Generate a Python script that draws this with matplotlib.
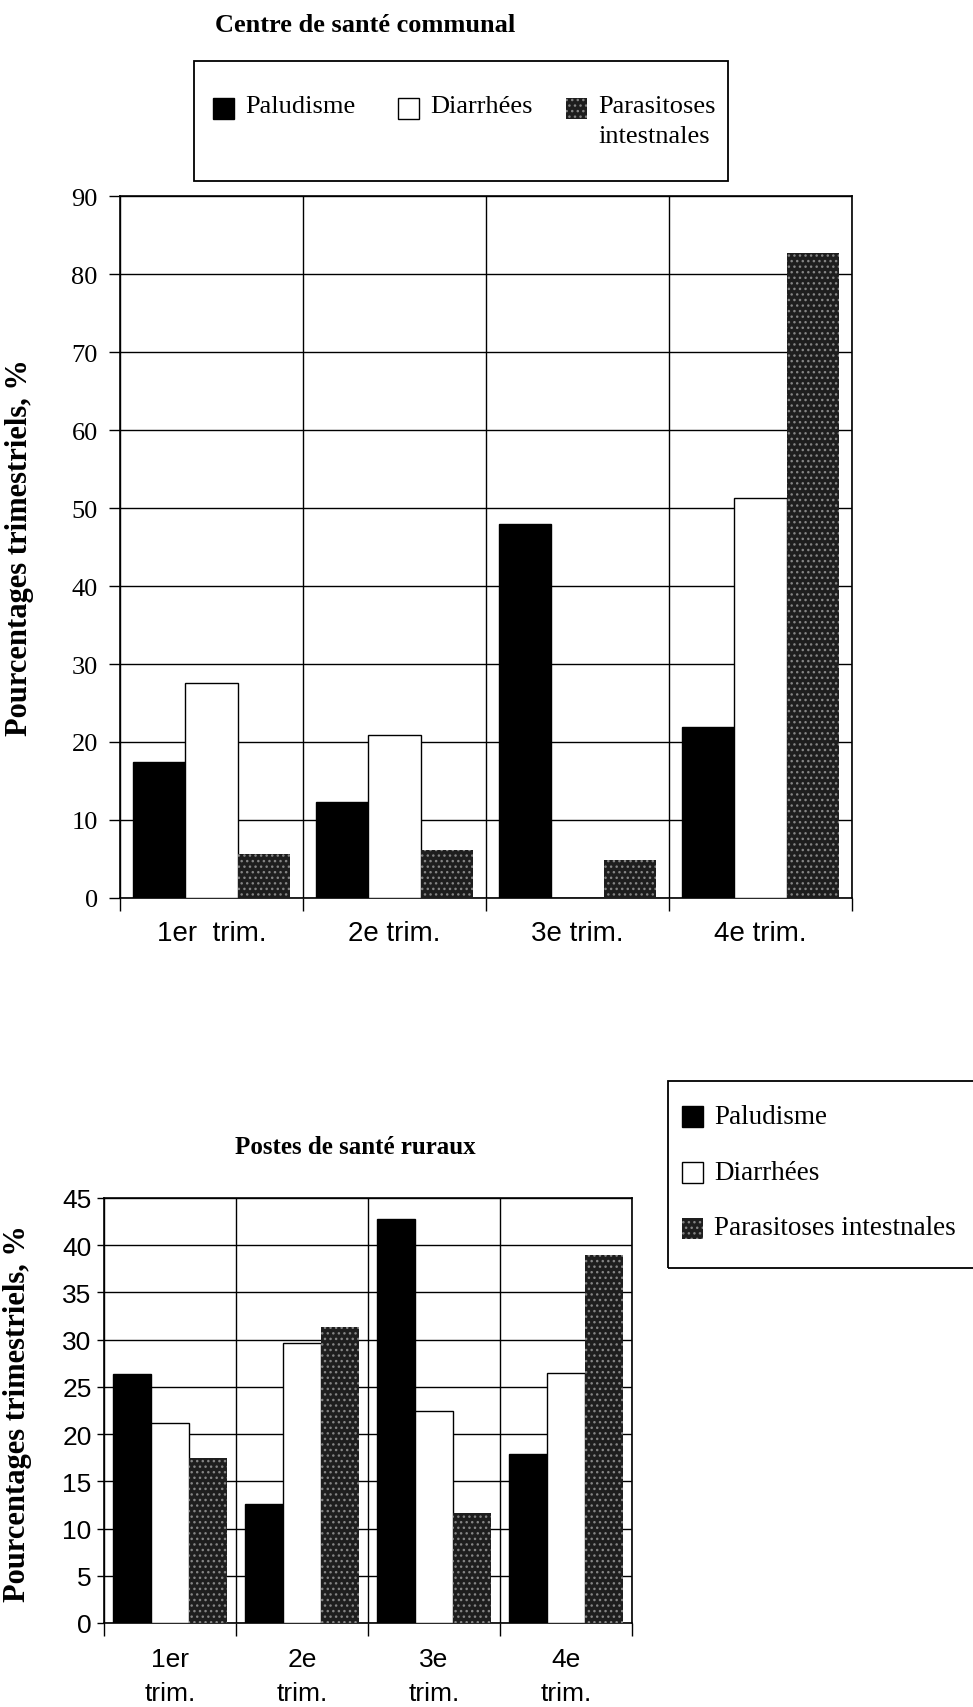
import numpy as np
import matplotlib
matplotlib.use('Agg')
import matplotlib.pyplot as plt
from matplotlib.patches import Rectangle

# categories / labels
trim_haut = ['1er  trim.', '2e trim.', '3e trim.', '4e trim.']
trim_bas = ['1er\ntrim.', '2e\ntrim.', '3e\ntrim.', '4e\ntrim.']
noms = ['Paludisme', 'Diarrhées', 'Parasitoses intestnales']

# Centre de santé communal (%)
csc_palu = [17.4, 12.3, 48.0, 21.9]
csc_diar = [27.6, 20.9, 0.0, 51.3]
csc_para = [5.7, 6.1, 4.9, 82.7]

# Postes de santé ruraux (%)
psr_palu = [26.4, 12.6, 42.8, 17.9]
psr_diar = [21.2, 29.6, 22.4, 26.5]
psr_para = [17.5, 31.3, 11.7, 39.0]

W, H = 973, 1708
SERIF = 'Liberation Serif'
SANS = 'Liberation Sans'

style_palu = dict(facecolor='black', edgecolor='black', linewidth=1)
style_diar = dict(facecolor='white', edgecolor='black', linewidth=1)
style_para = dict(facecolor='#1e1e1e', edgecolor='#858585', hatch='...', linewidth=0)


def box(l, t, r, b):
    # pixel box -> figure fraction [left, bottom, width, height]
    return [l / W, 1 - b / H, (r - l) / W, (b - t) / H]


def draw_chart(ax, palu, diar, para, labels, ymax, ystep, tickfont, xsize):
    x = np.arange(len(labels))
    w = 0.287
    ax.bar(x - w, palu, w, zorder=3, **style_palu)
    ax.bar(x, diar, w, zorder=3, **style_diar)
    ax.bar(x + w, para, w, zorder=3, **style_para)

    ax.set_xlim(-0.5, len(labels) - 0.5)
    ax.set_ylim(0, ymax)
    ax.set_yticks(np.arange(0, ymax + 1, ystep))
    ax.set_xticks(x)
    ax.set_xticklabels(labels, fontfamily=SANS, fontsize=xsize)
    ax.set_xticks(np.arange(-0.5, len(labels), 1), minor=True)
    ax.tick_params(axis='x', which='major', length=0)
    ax.tick_params(axis='x', which='minor', length=9, width=1, direction='out')
    ax.tick_params(axis='y', length=8, width=1, direction='out')
    for t in ax.get_yticklabels():
        t.set_fontfamily(tickfont)
        t.set_fontsize(19)
    ax.set_axisbelow(True)
    ax.grid(axis='y', which='major', color='black', linewidth=1)
    ax.grid(axis='x', which='minor', color='black', linewidth=1)
    for s in ax.spines.values():
        s.set_linewidth(1.2)


def square(x, yc, style, s=21):
    fig.add_artist(Rectangle((x / W, 1 - (yc + s / 2) / H), s / W, s / H,
                             transform=fig.transFigure, **style))


def frame(l, t, r, b):
    fig.add_artist(Rectangle((l / W, 1 - b / H), (r - l) / W, (b - t) / H,
                             transform=fig.transFigure, fill=False,
                             edgecolor='black', linewidth=1.3))


fig = plt.figure(figsize=(W / 100, H / 100), dpi=100)

# ---- top chart
ax1 = fig.add_axes(box(120, 197, 852, 899))
draw_chart(ax1, csc_palu, csc_diar, csc_para, trim_haut, 90, 10, SERIF, 20)
ax1.tick_params(axis='x', which='major', pad=16)
ax1.tick_params(axis='y', pad=8)
fig.text(365 / W, 1 - 25 / H, 'Centre de santé communal', ha='center', va='center',
         fontfamily=SERIF, fontweight='bold', fontsize=19)
fig.text(20 / W, 1 - 548 / H, 'Pourcentages trimestriels, %', rotation=90,
         ha='center', va='center', fontfamily=SERIF, fontweight='bold', fontsize=22)

frame(194, 62, 728, 182)
for xs, st, lab in [(213, style_palu, noms[0]), (398, style_diar, noms[1]),
                    (566, style_para, 'Parasitoses\nintestnales')]:
    square(xs, 109, st)
    fig.text((xs + 32) / W, 1 - 96 / H, lab, ha='left', va='top', linespacing=1.45,
             fontfamily=SERIF, fontsize=19)

# ---- bottom chart
ax2 = fig.add_axes(box(104, 1199, 632, 1624))
draw_chart(ax2, psr_palu, psr_diar, psr_para, trim_bas, 45, 5, SANS, 19)
ax2.tick_params(axis='x', which='major', pad=17)
ax2.tick_params(axis='y', length=5, pad=4)
for t in ax2.get_xticklabels():
    t.set_linespacing(1.55)
fig.text(355 / W, 1 - 1147 / H, 'Postes de santé ruraux', ha='center', va='center',
         fontfamily=SERIF, fontweight='bold', fontsize=18)
fig.text(18 / W, 1 - 1414 / H, 'Pourcentages trimestriels, %', rotation=90,
         ha='center', va='center', fontfamily=SERIF, fontweight='bold', fontsize=22)

frame(668, 1082, 990, 1269)
for yc, st, lab in [(1117, style_palu, noms[0]), (1173, style_diar, noms[1]),
                    (1229, style_para, noms[2])]:
    square(682, yc, st)
    fig.text(714 / W, 1 - yc / H, lab, ha='left', va='center',
             fontfamily=SERIF, fontsize=19.5)

fig.savefig('out.png', dpi=100)
